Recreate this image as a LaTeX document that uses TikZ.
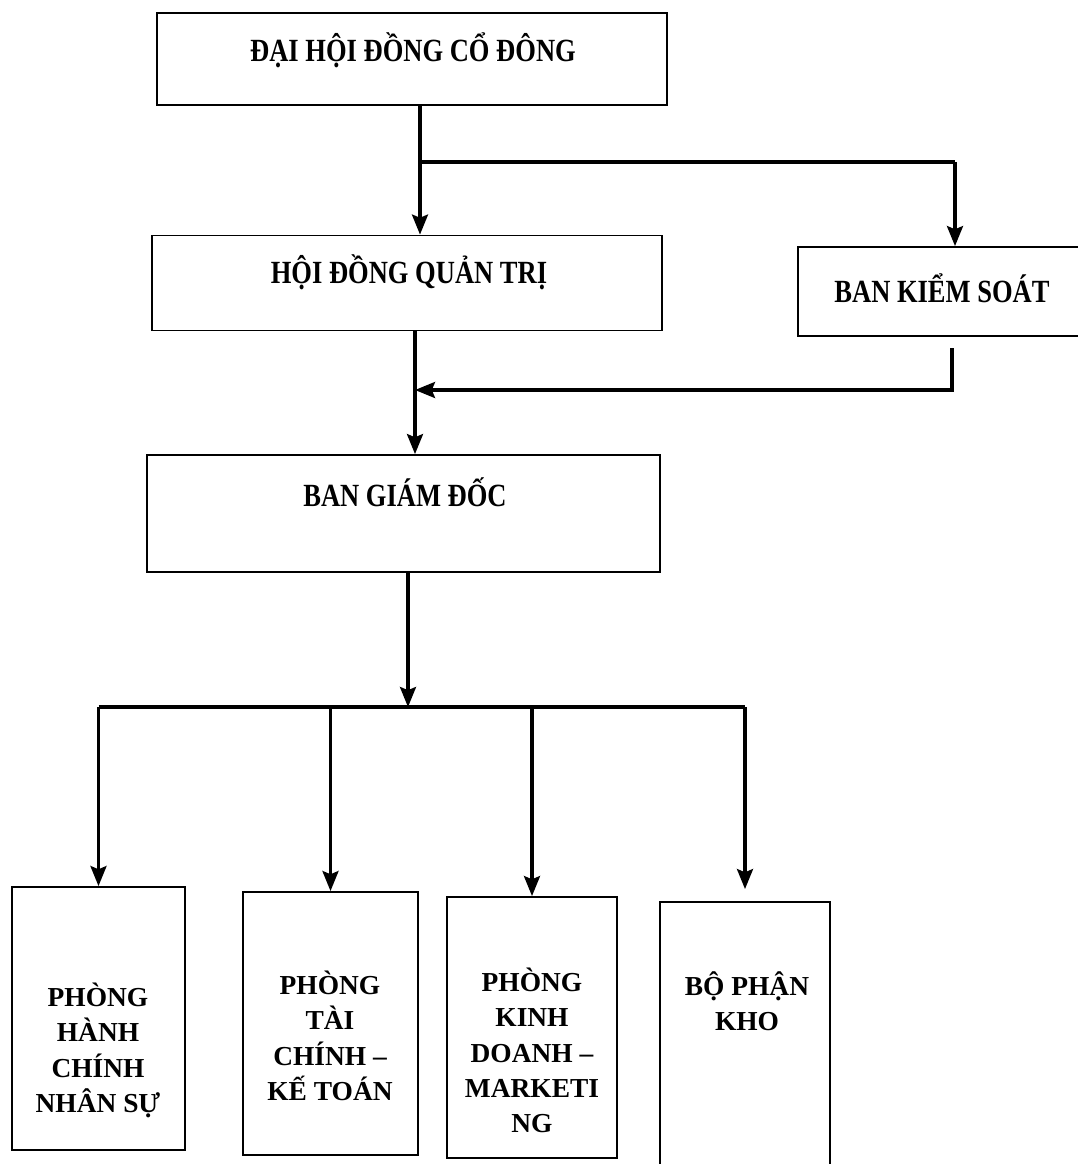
\documentclass[tikz,border=0pt]{standalone}
\usepackage{fontspec}
\setmainfont{Liberation Serif}
\newfontfamily\narrowserif{Liberation Serif}[FakeStretch=0.82]
\usetikzlibrary{arrows.meta}

\begin{document}
\begin{tikzpicture}[x=0.025cm,y=-0.025cm,
                box/.style={draw=black,line width=1.3pt,inner sep=0pt},
                toptext/.style={font=\narrowserif\bfseries\fontsize{23}{28}\selectfont,anchor=base,inner sep=0pt},
                deptext/.style={font=\bfseries\fontsize{19.5}{25}\selectfont,align=center,anchor=north,inner sep=0pt},
                line/.style={line width=2.2pt},
                arr/.style={line width=2.2pt,-{Stealth[length=5mm,width=4mm,inset=0.8mm]}}]
                \useasboundingbox (0,0) rectangle (1078,1164);

                \node[box,minimum width=12.75cm,minimum height=2.3cm] (dhcd) at (412,59) {};
                \node[box,minimum width=12.75cm,minimum height=2.375cm] (hdqt) at (407,283) {};
                \node[box,minimum width=7.2cm,minimum height=2.225cm] (bks) at (942,291.5) {};
                \node[box,minimum width=12.825cm,minimum height=2.925cm] (bgd) at (403.5,513.5) {};
                \node[box,minimum width=4.325cm,minimum height=6.575cm] (hcns) at (98.5,1018.5) {};
                \node[box,minimum width=4.375cm,minimum height=6.575cm] (tckt) at (330.5,1023.5) {};
                \node[box,minimum width=4.25cm,minimum height=6.525cm] (kdm) at (532,1027.5) {};
                \node[box,minimum width=4.25cm,minimum height=6.7cm] (kho) at (745,1036) {};

                \node[toptext] (dhcd-t) at (413,61) {ĐẠI HỘI ĐỒNG CỔ ĐÔNG};
                \node[toptext] (hdqt-t) at (409,283) {HỘI ĐỒNG QUẢN TRỊ};
                \node[toptext] (bks-t) at (942,302) {BAN KIỂM SOÁT};
                \node[toptext] (bgd-t) at (405,506) {BAN GIÁM ĐỐC};
                \node[deptext] (hcns-t) at (98,983) {PHÒNG\\HÀNH\\CHÍNH\\NHÂN SỰ};
                \node[deptext] (tckt-t) at (330,971) {PHÒNG\\TÀI\\CHÍNH –\\KẾ TOÁN};
                \node[deptext] (kdm-t) at (532,968) {PHÒNG\\KINH\\DOANH –\\MARKETI\\NG};
                \node[deptext] (kho-t) at (747,971) {BỘ PHẬN\\KHO};

                \coordinate (j1) at (420,162);
                \coordinate (k1) at (955,162);
                \coordinate (k2) at (952,348);
                \coordinate (m1) at (415,390);
                \coordinate (bus) at (408,707);
                \coordinate (busl) at (98.5,707);
                \coordinate (busr) at (745,707);

                \draw[arr] (dhcd.south -| j1) -- (hdqt.north -| j1);
                \draw[line] (j1) -- (k1);
                \draw[arr] (k1) -- (k1 |- bks.north);

                \draw[arr] (hdqt.south -| m1) -- (bgd.north -| m1);
                \draw[arr] (k2) |- (m1);

                \draw[arr] (bgd.south -| bus) -- (bus);
                \draw[line] (busl) -- (busr);
                \foreach \d/\s in {hcns/0mm,tckt/0mm,kdm/0mm,kho/3mm}
                    \draw[arr,shorten >=\s] (busl -| \d.north) -- (\d.north);
            \end{tikzpicture}
\end{document}
